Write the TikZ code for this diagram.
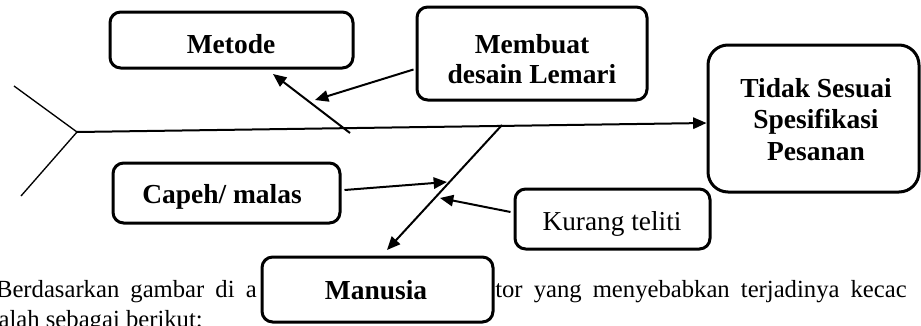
\documentclass[tikz,border=0pt]{standalone}
\usepackage{fontspec}
\setmainfont{Liberation Serif}
\usetikzlibrary{arrows.meta,calc}
\begin{document}
\begin{tikzpicture}[x=0.75pt,y=-0.75pt,
  box/.style={draw,line width=2.25pt,rounded corners=8pt,fill=white,inner sep=0pt},
  lbl/.style={font=\bfseries\fontsize{20.6}{24}\selectfont,anchor=base,inner sep=0pt},
  lblr/.style={font=\fontsize{20.5}{24}\selectfont,anchor=base,inner sep=0pt},
  body/.style={font=\fontsize{18.5}{22}\selectfont,inner sep=0pt},
  arr/.style={line width=1.5pt,-{Triangle[length=10pt,width=8.5pt]}},
  head/.style={line width=1pt}]
\useasboundingbox (0,0) rectangle (921,325);
\clip (0,0) rectangle (921,325);
% body text
\node[body,anchor=base east] (t1) at (257,297) {Berdasarkan\hspace{0.45em}gambar\hspace{0.45em}di\hspace{0.45em}a};
\node[body,anchor=base west] (t2) at (495,297) {tor\hspace{0.45em}yang\hspace{0.45em}menyebabkan\hspace{0.45em}terjadinya\hspace{0.45em}kecac};
\node[body,anchor=base east] (t3) at (203,327) {alah sebagai berikut:};
% boxes
\node[box,minimum width=182.25pt,minimum height=42pt] (metode) at (231.5,40) {};
\node[box,minimum width=172.5pt,minimum height=69.75pt] (membuat) at (532,53.5) {};
\node[box,rounded corners=15pt,minimum width=158.25pt,minimum height=110.25pt] (tidak) at (813.5,118.5) {};
\node[box,minimum width=170.25pt,minimum height=45pt] (capeh) at (226.5,193) {};
\node[box,minimum width=173.25pt,minimum height=48.75pt] (manusia) at (377.5,289.5) {};
\node[box,minimum width=146.25pt,minimum height=45pt] (kurang) at (612.5,219) {};
% labels
\node[lbl] (lmet) at (231,53) {Metode};
\node[lbl] (lmem1) at (532,53) {Membuat};
\node[lbl] (lmem2) at (532,83) {desain Lemari};
\node[lbl] (lt1) at (816,97) {Tidak Sesuai};
\node[lbl] (lt2) at (816,128) {Spesifikasi};
\node[lbl] (lt3) at (816,160) {Pesanan};
\node[lbl] (lcap) at (222,203) {Capeh/ malas};
\node[lbl] (lman) at (376,299) {Manusia};
\node[lblr] (lkur) at (612,230) {Kurang teliti};
% skeleton
\coordinate (H) at (77,132);
\coordinate (ht) at (14,86);
\coordinate (hb) at (21,196);
\coordinate (mb1) at (350,133);
\coordinate (mb2) at (273,74);
\coordinate (mem) at (315,100);
\coordinate (mn1) at (502,125);
\coordinate (mn2) at (387,250);
\coordinate (cap) at (447,182);
\coordinate (kur) at (440,198);
\draw[head] (ht) -- (H) -- (hb);
\draw[arr] (H) -- ($(tidak.west)+(0,4.5)$);
\draw[arr] (mb1) -- (mb2);
\draw[arr] ($(membuat.west)+(-2,16)$) -- (mem);
\draw[arr] (mn1) -- (mn2);
\draw[arr] ($(capeh.east)+(3,-3)$) -- (cap);
\draw[arr] ($(kurang.west)+(-3,-7)$) -- (kur);
\end{tikzpicture}
\end{document}
